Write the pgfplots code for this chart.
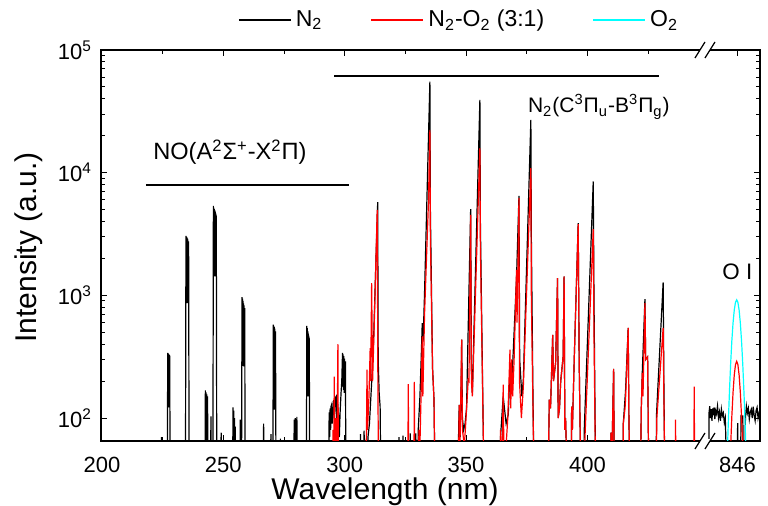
\documentclass[border=0pt]{standalone}
\usepackage{fontspec}
\setmainfont{Liberation Sans}
\usepackage{pgfplots}
\pgfplotsset{compat=1.18}
\definecolor{aqua}{RGB}{0,255,255}
\definecolor{pured}{RGB}{255,0,0}
\begin{document}
\begin{tikzpicture}
\begin{axis}[
  at={(0,0)}, anchor=south west,
  scale only axis, width=329.5pt, height=195.5pt,
  xmin=199.6, xmax=471.1,
  ymode=log, ymin=65, ymax=100000,
  clip mode=individual,
  axis line style={line width=0.65pt},
  every tick/.style={line width=0.5pt, black},
  major tick length=3pt, minor tick length=1.8pt,
  xtick={200,250,300,350,400,461.8},
  xticklabels={200,250,300,350,400,846},
  minor xtick={225,275,325,375,425},
  ytick={100,1000,10000,100000},
  yticklabels={10\textsuperscript{2},10\textsuperscript{3},10\textsuperscript{4},10\textsuperscript{5}},
  tick label style={font=\fontsize{11}{13}\selectfont},
  xticklabel style={yshift=-4.5pt},
  yticklabel style={xshift=-1pt},
  label style={font=\fontsize{15}{18}\selectfont},
  xlabel={Wavelength (nm)},
  ylabel={Intensity (a.u.)},
  xlabel style={at={(axis description cs:0.431,-0.1505)}, anchor=base},
  ylabel style={at={(axis description cs:-0.0986,0.495)}, anchor=base},
  legend columns=3,
  legend image code/.code={\draw[#1, line width=1pt] (0pt,0pt) -- (26pt,0pt);},
  legend style={draw=none, fill=none, font=\fontsize{11.5}{13}\selectfont,
    at={(axis description cs:0.198,1.077)}, anchor=west,
    /tikz/every odd column/.append style={column sep=0pt},
    /tikz/every even column/.append style={column sep=22pt}},
]
% N2 (left part)
\addplot[black, line width=0.6pt] coordinates {
(200,30) (224.3,30) (224.5,70) (224.7,30)
(226.9,30) (227.1,339) (227.2,125) (227.3,335) (227.4,122) (227.5,331) (227.6,122) (227.7,327) (227.8,122) (227.9,322) (228.1,30)
(234.4,30) (234.6,3050) (234.7,880) (234.8,3000) (234.9,870) (235.0,2950) (235.1,865) (235.2,2900) (235.3,865) (235.4,2850) (235.5,865) (235.7,2750) (235.9,30)
(242.4,30) (242.6,168) (242.75,60) (242.9,162) (243.05,60) (243.2,156) (243.35,60) (243.5,150) (243.7,30) (244.7,30) (244.9,103) (245.1,30)
(245.7,30) (245.9,5370) (246.0,1450) (246.1,5200) (246.2,1440) (246.3,5050) (246.4,1430) (246.5,4900) (246.6,1430) (246.7,4700) (246.8,1430) (246.9,4550) (247.1,4400) (247.3,30)
(248.9,30) (249.1,76) (249.3,30)
(253.8,30) (254.0,122) (254.15,60) (254.3,115) (254.45,60) (254.6,100) (254.75,60) (254.9,85) (255.1,30)
(256.8,30) (257.0,97) (257.2,30)
(257.5,30) (257.7,968) (257.8,270) (257.9,940) (258.0,268) (258.1,900) (258.2,266) (258.3,860) (258.4,264) (258.5,830) (258.6,264) (258.8,788) (259.0,30)
(266.4,30) (266.6,90) (266.8,30) (269.4,30) (269.6,74) (269.8,30)
(270.4,30) (270.6,577) (270.7,120) (270.8,565) (270.9,118) (271.0,550) (271.1,117) (271.2,535) (271.3,117) (271.5,509) (271.7,30)
(273.3,30) (273.5,68) (273.7,30)
(279.0,30) (279.2,97) (279.4,60) (279.6,100) (279.8,60) (280.0,98) (280.15,60) (280.3,102) (280.5,30)
(284.2,30) (284.4,565) (284.5,152) (284.6,540) (284.7,150) (284.8,510) (284.9,150) (285.0,485) (285.1,150) (285.2,460) (285.4,441) (285.6,30)
(293.4,30) (293.6,111) (293.8,70) (294.0,120) (294.2,80) (294.4,125) (294.7,130) (294.9,90) (295.2,110) (295.5,140) (295.8,100) (296.1,145) (296.5,150) (296.8,90) (297.1,130) (297.5,100) (297.8,70) (298.1,110) (298.5,160) (298.8,200) (299.1,339) (299.2,180) (299.35,330) (299.5,170) (299.65,320) (299.8,160) (299.95,305) (300.1,160) (300.3,290) (300.5,30)
(306.3,30) (306.5,74) (306.7,30) (307.8,30) (308.0,79) (308.2,30)
(309.3,30) (309.6,70) (310.2,90) (310.8,150) (311.4,250) (312.0,500) (312.75,1597) (313.6,5750) (313.8,300) (314.2,160) (314.6,124) (314.9,30)
(322.2,30) (322.4,70) (322.6,30) (323.8,30) (324.0,72) (324.2,30) (326.8,30) (327.0,75) (327.2,30)
(329.0,30) (329.3,75) (329.6,30)
(330.0,30) (330.3,80) (331.0,150) (331.5,300) (331.95,594) (332.3,420) (332.9,1045) (335.1,55200) (335.3,5000) (336.2,256) (336.8,141) (337.2,30)
(346.6,30) (347.0,90) (347.2,128) (347.6,70) (348.0,200) (348.2,435) (348.5,100) (349.0,80) (349.6,90) (350.2,120) (351.9,5050) (352.2,250) (352.6,160) (355.7,39200) (355.9,4000) (356.8,200) (357.4,30)
(363.5,30) (364.2,70) (365.3,150) (366.5,90) (367.4,107) (368.1,250) (368.8,200) (369.3,300) (370.8,1400) (371.8,6470) (372.1,300) (373.0,150) (373.6,205) (376.7,26900) (376.9,3000) (377.5,200) (378.0,30)
(383.8,30) (384.3,141) (384.8,120) (385.7,477) (386.0,200) (386.9,281) (387.7,1383) (387.95,100) (388.5,120) (389.0,200) (390.0,316) (390.4,1425) (390.7,80) (391.0,100) (391.3,60) (393.3,30) (393.5,124) (393.8,80) (394.6,316) (396.2,3880) (396.6,300) (397.3,30)
(398.4,30) (398.7,80) (402.4,8470) (402.7,1000) (403.4,30)
(409.5,30) (409.7,76) (410.0,40) (410.8,251) (411.1,30)
(414.6,30) (414.8,91) (415.7,165) (416.8,542) (417.1,100) (417.5,30)
(420.5,30) (420.7,66) (420.9,30)
(421.8,30) (422.2,120) (422.6,233) (423.7,933) (424.0,300) (424.8,315) (425.3,30)
(428.2,30) (428.5,110) (431.2,1273) (431.5,200) (431.9,30)
(448,30)
};
\addlegendentry{N\textsubscript{2}}
% N2-O2 (3:1) (left part)
\addplot[pured, line width=0.6pt] coordinates {
(200,30) (294.9,30) (295.2,80) (295.5,60) (295.7,218) (295.9,60) (296.3,100) (296.6,50) (297.0,120) (297.2,401) (297.4,40)
(308.7,30) (309.0,90) (309.2,248) (309.4,80) (310.0,150) (310.5,372) (310.7,200) (311.1,1259) (311.5,200) (312.2,600) (313.4,4980) (313.7,150) (314.0,30)
(326.0,30) (326.2,189) (326.4,30) (328.5,30) (328.7,197) (328.9,30)
(330.2,30) (330.6,80) (331.0,60) (331.6,200) (331.95,462) (332.2,150) (332.9,700) (334.5,5650) (335.1,22300) (335.3,3000) (336.2,250) (336.8,141) (337.2,30)
(346.8,30) (347.2,128) (347.5,60) (348.2,435) (348.5,80) (349.3,60) (350.0,100) (350.9,205) (351.2,200) (351.9,4530) (352.2,200) (352.6,150) (355.7,15850) (355.9,2500) (356.8,180) (357.4,30)
(364.0,30) (364.2,80) (364.5,40) (365.0,60) (365.3,187) (365.6,50) (366.5,60) (367.2,100) (368.1,361) (368.4,120) (368.8,300) (369.2,150) (369.8,300) (370.8,1615) (371.0,600) (371.8,6200) (372.0,200) (372.8,100) (373.6,180) (376.7,10900) (376.9,1000) (377.5,150) (378.0,30)
(383.8,30) (384.3,141) (384.8,120) (385.7,477) (386.0,200) (386.9,281) (387.7,1383) (387.95,100) (388.5,120) (389.0,200) (390.0,316) (390.4,1425) (390.7,80) (391.0,100) (391.3,60) (393.3,30) (393.5,124) (393.8,80) (394.6,316) (396.2,3800) (396.6,300) (397.3,30)
(398.5,30) (399.0,70) (402.4,3470) (402.7,500) (403.4,30)
(409.5,30) (409.7,76) (410.0,40) (410.8,251) (411.1,30)
(414.6,30) (414.8,91) (415.5,120) (415.7,140) (416.8,542) (417.1,100) (417.5,30)
(421.8,30) (422.2,120) (422.6,233) (422.9,150) (423.7,865) (424.0,300) (424.8,315) (425.3,30)
(428.3,30) (428.6,100) (431.2,542) (431.5,150) (431.9,30)
(436.1,30) (436.3,97) (436.5,30)
(443.8,30) (444.0,180) (444.2,30)
(448,30)
};
\addlegendentry{N\textsubscript{2}-O\textsubscript{2} (3:1)}
% right part (real wavelengths, shifted past the break)
\addplot[black, line width=0.6pt, forget plot, x filter/.expression={x-384.2}] coordinates {
(834.2,30) (834.3,110) (834.6,125) (834.9,100) (835.2,118) (835.5,95) (835.8,120) (836.1,105) (836.4,122) (836.7,98) (837.0,115) (837.4,108) (837.8,125) (838.2,100) (838.6,112) (839.0,95) (839.4,118) (839.8,104) (840.2,110) (840.6,92) (841.0,100) (841.3,60) (841.6,30)
(845.8,30) (846.1,91) (846.4,30) (847.2,30) (847.5,100) (847.9,95) (848.2,105) (848.6,30)
(849.0,30) (849.3,100) (849.7,125) (850.1,110) (850.5,120) (850.9,98) (851.3,112) (851.7,118) (852.1,100) (852.5,124) (852.9,105) (853.3,95) (853.7,115) (854.1,122) (854.5,100) (854.9,110) (855.3,118)
};
\addplot[pured, line width=0.6pt, forget plot, x filter/.expression={x-384.2}] coordinates {
(842.7,28) (843.2,58) (843.7,103) (844.2,162) (844.7,224) (845.2,272) (845.7,290) (846.2,272) (846.7,224) (847.2,162) (847.7,103) (848.2,58) (848.7,28)
};
\addplot[aqua, line width=0.6pt, x filter/.expression={x-384.2}] coordinates {
(841.7,42) (842.2,86) (842.7,161) (843.2,275) (843.7,425) (844.2,596) (844.7,759) (845.2,877) (845.7,920) (846.2,877) (846.7,759) (847.2,596) (847.7,425) (848.2,275) (848.7,161) (849.2,86) (849.7,42)
};
\addlegendentry{O\textsubscript{2}}
% band annotations
\draw[line width=1pt] (axis cs:218.1,7960) -- (axis cs:301.8,7960);
\draw[line width=1pt] (axis cs:295.6,61400) -- (axis cs:429.5,61400);
\node[anchor=base, font=\fontsize{11.8}{14}\selectfont, inner sep=0pt] at (axis cs:252.7,12700) {NO(A\textsuperscript{2}Σ\textsuperscript{+}-X\textsuperscript{2}Π)};
\node[anchor=base, font=\fontsize{10.5}{13}\selectfont, inner sep=0pt] at (axis cs:404.7,30700) {N\textsubscript{2}(C\textsuperscript{3}Π\textsubscript{u}-B\textsuperscript{3}Π\textsubscript{g})};
\node[anchor=base, font=\fontsize{11.2}{13}\selectfont, inner sep=0pt] at (axis cs:461.8,1340) {O I};
\end{axis}
% axis break
\fill[white] (299.5pt,-1pt) rectangle (304.5pt,1pt);
\fill[white] (299.5pt,194.5pt) rectangle (304.5pt,196.5pt);
\draw[line width=0.6pt] (297pt,-4pt) -- (302pt,4pt) (302pt,-4pt) -- (307pt,4pt);
\draw[line width=0.6pt] (297pt,191.5pt) -- (302pt,199.5pt) (302pt,191.5pt) -- (307pt,199.5pt);
\pgfresetboundingbox
\path[use as bounding box] (-50.5pt,-32.5pt) rectangle (333.5pt,220.5pt);
\end{tikzpicture}
\end{document}
